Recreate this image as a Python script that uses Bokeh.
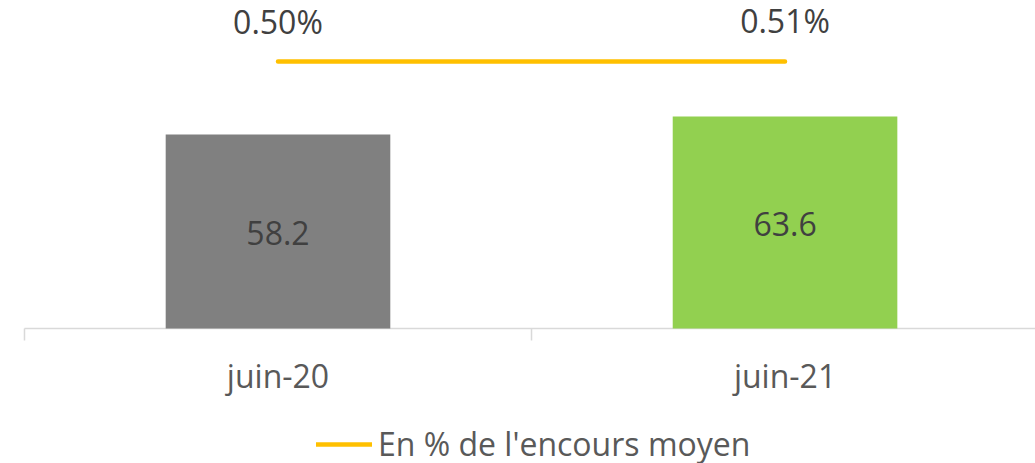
import math
from bokeh.plotting import figure
from bokeh.models import (ColumnDataSource, Range1d, LabelSet, Legend, LegendItem)
from bokeh.core.properties import value
from bokeh.embed import file_html
from bokeh.resources import INLINE

categories = ["juin-20", "juin-21"]
amounts = [58.2, 63.6]
pct = [0.50, 0.51]
bar_colors = ["#808080", "#92D050"]
amount_labels = ["58.2", "63.6"]
pct_labels = ["0.50%", "0.51%"]
legend_label = "En % de l'encours moyen"

FONT = "Open Sans"
AXIS_GREY = "#d9d9d9"

# category slots on a numeric axis: slot i spans [i, i+1], centre i+0.5
n = len(categories)
centers = [i + 0.5 for i in range(n)]
edges = list(range(n + 1))

p = figure(width=1035, height=463,
           x_range=Range1d(-0.0473, 1.994),
           y_range=Range1d(-40.5, 98.4),
           output_backend="svg", toolbar_location=None,
           x_axis_location=None, y_axis_location=None,
           min_border=0)
p.outline_line_color = None
p.grid.visible = False
p.background_fill_color = "white"
p.border_fill_color = "white"

p.extra_y_ranges = {"pct": Range1d(-30, 5.13)}

bar_src = ColumnDataSource(dict(
    x=centers, top=amounts, color=bar_colors, label=amount_labels,
    half=[a / 2 for a in amounts]))
pct_src = ColumnDataSource(dict(x=centers, y=pct, label=pct_labels))
cat_src = ColumnDataSource(dict(x=centers, y=[0] * n, label=categories))
edge_src = ColumnDataSource(dict(x=edges, y=[0] * len(edges)))

# category axis: baseline and slot-boundary ticks
p.ray(x=edges[:1], y=[0], length=0, angle=0, line_color=AXIS_GREY, line_width=1.5)
p.ray(x="x", y="y", length=12, length_units="screen", angle=-math.pi / 2,
      line_color=AXIS_GREY, line_width=1.5, source=edge_src)

p.vbar(x="x", top="top", width=0.443, fill_color="color", line_color=None, source=bar_src)
line_r = p.line(x="x", y="y", y_range_name="pct", line_color="#FFC000", line_width=4.5,
                line_cap="round", source=pct_src)

bar_labels = LabelSet(x="x", y="half", text="label", source=bar_src,
                      text_align="center", text_baseline="middle", y_offset=-1,
                      text_font=value(FONT), text_font_size="32px", text_color="#404040")
p.add_layout(bar_labels)

pct_lbls = LabelSet(x="x", y="y", y_range_name="pct", text="label", source=pct_src,
                    text_align="center", text_baseline="alphabetic", y_offset=28,
                    text_font=value(FONT), text_font_size="32px", text_color="#404040")
p.add_layout(pct_lbls)

cat_lbls = LabelSet(x="x", y="y", text="label", source=cat_src,
                    text_align="center", text_baseline="alphabetic", y_offset=-59,
                    text_font=value(FONT), text_font_size="32px", text_color="#595959")
p.add_layout(cat_lbls)

legend = Legend(items=[LegendItem(label=value(legend_label), renderers=[line_r])],
                location=(316, -2), orientation="horizontal",
                border_line_color=None, background_fill_alpha=0,
                padding=0, margin=0, glyph_width=56, glyph_height=20,
                label_standoff=6, label_text_font_size="32px",
                label_text_color="#595959", label_text_font=FONT)
p.add_layout(legend)

open("out.html", "w").write(file_html(p, INLINE))
